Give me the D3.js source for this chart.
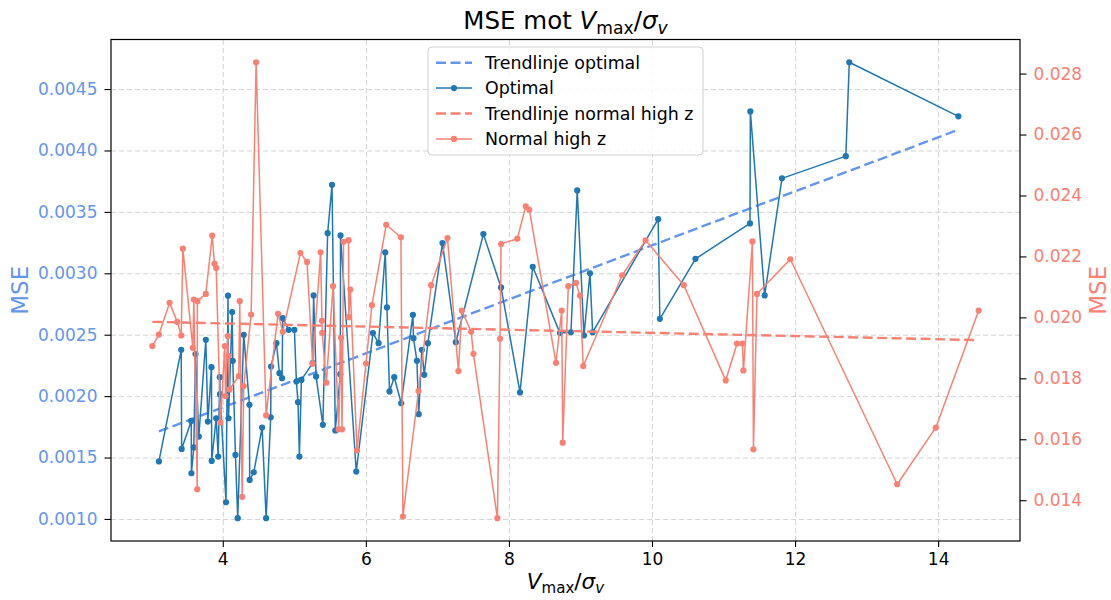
<!DOCTYPE html>
<html>
<head>
<meta charset="utf-8">
<script src="https://cdn.jsdelivr.net/npm/d3@7"></script>
<style>
  body { margin: 0; background: #fff; }
  svg { font-family: "DejaVu Sans", sans-serif; }
</style>
</head>
<body>
<div class="chart"></div>
<script>
// "Optimal" series (left axis)
const optX = [3.107, 3.419, 3.425, 3.559, 3.562, 3.595, 3.619, 3.665, 3.763, 3.791,
  3.842, 3.845, 3.908, 3.936, 3.958, 3.962, 4.045, 4.073, 4.080, 4.131,
  4.140, 4.177, 4.209, 4.293, 4.373, 4.376, 4.433, 4.550, 4.606, 4.670,
  4.675, 4.750, 4.792, 4.829, 4.838, 4.921, 5.001, 5.029, 5.052, 5.071,
  5.099, 5.256, 5.270, 5.304, 5.399, 5.466, 5.527, 5.573, 5.643, 5.646,
  5.866, 6.099, 6.178, 6.271, 6.295, 6.331, 6.397, 6.494, 6.658, 6.666,
  6.714, 6.739, 6.783, 6.816, 6.867, 7.071, 7.258, 7.643, 7.890, 8.155,
  8.333, 8.714, 8.867, 8.955, 9.049, 9.133, 9.170, 10.086, 10.110, 10.608,
  11.370, 11.375, 11.575, 11.817, 12.710, 12.758, 14.283];
const optY = [0.001468, 0.002377, 0.001570, 0.001798, 0.001372, 0.001582, 0.002342, 0.001671, 0.002458, 0.001793,
  0.002236, 0.001472, 0.001820, 0.001508, 0.002154, 0.002016, 0.001136, 0.002818, 0.001820, 0.002684,
  0.002287, 0.001521, 0.001006, 0.002499, 0.001929, 0.001318, 0.001380, 0.001744, 0.001006, 0.001828,
  0.002241, 0.002431, 0.002187, 0.002146, 0.002635, 0.002540, 0.002540, 0.002119, 0.001951, 0.001508,
  0.002132, 0.002268, 0.002820, 0.002160, 0.001766, 0.003327, 0.003720, 0.001720, 0.002179, 0.003308,
  0.001386, 0.002513, 0.002431, 0.003170, 0.002722, 0.002038, 0.002154, 0.001942, 0.002662, 0.002472,
  0.002287, 0.001853, 0.002377, 0.002173, 0.002431, 0.003246, 0.002439, 0.003319, 0.002885, 0.002030,
  0.003053, 0.002513, 0.002520, 0.003675, 0.002494, 0.003000, 0.002520, 0.003441, 0.002629, 0.003118,
  0.003406, 0.004318, 0.002820, 0.003773, 0.003954, 0.004718, 0.004278];

// "Normal high z" series (right axis)
const normX = [3.015, 3.107, 3.256, 3.363, 3.419, 3.442, 3.581, 3.595, 3.643, 3.645,
  3.763, 3.852, 3.884, 3.908, 3.968, 4.028, 4.038, 4.070, 4.080, 4.094,
  4.223, 4.237, 4.271, 4.293, 4.396, 4.466, 4.606, 4.773, 4.838, 5.085,
  5.178, 5.256, 5.368, 5.386, 5.390, 5.448, 5.541, 5.620, 5.653, 5.667,
  5.689, 5.758, 5.761, 5.783, 5.876, 6.002, 6.085, 6.285, 6.490, 6.518,
  6.736, 6.913, 7.141, 7.294, 7.342, 7.472, 7.504, 7.839, 7.876, 7.890,
  8.118, 8.235, 8.285, 8.658, 8.738, 8.752, 8.830, 8.937, 8.993, 9.039,
  9.584, 9.910, 10.445, 11.031, 11.189, 11.264, 11.278, 11.404, 11.418, 11.468,
  11.934, 13.428, 13.967, 14.567];
const normY = [0.019057, 0.019437, 0.020476, 0.019853, 0.019405, 0.022254, 0.019002, 0.020584, 0.014360, 0.020531,
  0.020770, 0.022680, 0.021763, 0.021622, 0.016545, 0.019057, 0.017420, 0.019385, 0.018730, 0.017636,
  0.018075, 0.020531, 0.014111, 0.017747, 0.020092, 0.028370, 0.016784, 0.020115, 0.019526, 0.022113,
  0.021819, 0.018478, 0.022136, 0.019886, 0.019493, 0.017855, 0.021023, 0.016326, 0.019329, 0.016326,
  0.022481, 0.022534, 0.020007, 0.020911, 0.015638, 0.018487, 0.020400, 0.023040, 0.022628, 0.013466,
  0.017583, 0.021055, 0.022605, 0.018238, 0.020223, 0.019526, 0.018805, 0.013410, 0.019296, 0.022408,
  0.022582, 0.023643, 0.023532, 0.018510, 0.020223, 0.015890, 0.021023, 0.021131, 0.020715, 0.018402,
  0.021383, 0.022529, 0.021055, 0.017931, 0.019143, 0.019143, 0.018258, 0.022491, 0.015670, 0.020770,
  0.021907, 0.014524, 0.016381, 0.020223];

// trend lines (end points)
const trendOptX = [3.107, 14.283];
const trendOptY = [0.001712, 0.004169];
const trendNormX = [3.015, 14.567];
const trendNormY = [0.019853, 0.019254];

// ticks
const xTicks = [4, 6, 8, 10, 12, 14];
const leftTicks = [0.0010, 0.0015, 0.0020, 0.0025, 0.0030, 0.0035, 0.0040, 0.0045];
const rightTicks = [0.014, 0.016, 0.018, 0.020, 0.022, 0.024, 0.026, 0.028];

const legendLabels = ["Trendlinje optimal", "Optimal", "Trendlinje normal high z", "Normal high z"];

const blue = "#1f77b4", lightBlue = "#6495ED", salmon = "#FA8072";

const W = 1111, H = 600;
const margin = {top: 39.5, right: 91, bottom: 59, left: 111};
const width = W - margin.left - margin.right;
const height = H - margin.top - margin.bottom;

const svg = d3.select(".chart").append("svg")
  .attr("width", W)
  .attr("height", H);

const g = svg.append("g")
  .attr("transform", `translate(${margin.left}, ${margin.top})`);

// matplotlib-style 5% margins
function padded(vals) {
  const [lo, hi] = d3.extent(vals);
  const p = (hi - lo) * 0.05;
  return [lo - p, hi + p];
}

const x = d3.scaleLinear().domain(padded(optX.concat(normX))).range([0, width]);
const yL = d3.scaleLinear().domain(padded(optY.concat(trendOptY))).range([height, 0]);
const yR = d3.scaleLinear().domain(padded(normY.concat(trendNormY))).range([height, 0]);

// grid
const gridX = g.append("g")
  .attr("transform", `translate(0, ${height})`)
  .call(d3.axisBottom(x).tickValues(xTicks).tickSize(-height).tickFormat(""));
const gridY = g.append("g")
  .call(d3.axisLeft(yL).tickValues(leftTicks).tickSize(-width).tickFormat(""));
[gridX, gridY].forEach(s => {
  s.select(".domain").remove();
  s.selectAll("line")
    .attr("stroke", "#c8c8c8")
    .attr("stroke-opacity", 0.8)
    .attr("stroke-width", 1)
    .attr("stroke-dasharray", "5,3");
});

// draw one series: trend + line with markers
function drawSeries(xs, ys, tx, ty, yScale, lineColor, trendColor) {
  const trend = d3.zip(tx, ty);
  g.append("path")
    .datum(trend)
    .attr("fill", "none")
    .attr("stroke", trendColor)
    .attr("stroke-width", 2.4)
    .attr("stroke-dasharray", "10,4.5")
    .attr("d", d3.line().x(d => x(d[0])).y(d => yScale(d[1])));

  const pts = d3.zip(xs, ys);
  g.append("path")
    .datum(pts)
    .attr("fill", "none")
    .attr("stroke", lineColor)
    .attr("stroke-width", 1.5)
    .attr("stroke-linejoin", "round")
    .attr("d", d3.line().x(d => x(d[0])).y(d => yScale(d[1])));

  g.append("g").selectAll("circle")
    .data(pts)
    .join("circle")
      .attr("cx", d => x(d[0]))
      .attr("cy", d => yScale(d[1]))
      .attr("r", 3.1)
      .attr("fill", lineColor);
}

drawSeries(optX, optY, trendOptX, trendOptY, yL, blue, lightBlue);
drawSeries(normX, normY, trendNormX, trendNormY, yR, salmon, salmon);

// axes
const xAxis = g.append("g")
  .attr("transform", `translate(0, ${height})`)
  .call(d3.axisBottom(x).tickValues(xTicks).tickSize(6).tickPadding(6));
const lAxis = g.append("g")
  .call(d3.axisLeft(yL).tickValues(leftTicks).tickFormat(d3.format(".4f")).tickSize(6.5).tickPadding(7));
const rAxis = g.append("g")
  .attr("transform", `translate(${width}, 0)`)
  .call(d3.axisRight(yR).tickValues(rightTicks).tickFormat(d3.format(".3f")).tickSize(6.5).tickPadding(7));

[[xAxis, "#000"], [lAxis, lightBlue], [rAxis, salmon]].forEach(([s, c]) => {
  s.select(".domain").remove();
  s.selectAll("line").attr("stroke", "#000").attr("stroke-width", 1.1);
  s.selectAll("text")
    .attr("fill", c)
    .style("font-family", "'DejaVu Sans', sans-serif")
    .style("font-size", "17px");
});

// frame
g.append("rect")
  .attr("width", width)
  .attr("height", height)
  .attr("fill", "none")
  .attr("stroke", "#000")
  .attr("stroke-width", 1.2);

// V_max / sigma_v in mathtext style
function mathText(t, fs) {
  t.append("tspan").attr("font-style", "italic").text("V");
  t.append("tspan").attr("font-size", fs * 0.7).attr("dy", fs * 0.2).text("max");
  t.append("tspan").attr("dy", -fs * 0.2).text("/");
  t.append("tspan").attr("font-style", "italic").text("σ");
  t.append("tspan").attr("font-style", "italic").attr("font-size", fs * 0.7).attr("dy", fs * 0.2).text("v");
}

// title
const titleSize = 24.5;
const title = svg.append("text")
  .attr("x", margin.left + width / 2)
  .attr("y", 29)
  .attr("text-anchor", "middle")
  .attr("font-size", titleSize)
  .attr("fill", "#000");
title.append("tspan").text("MSE mot ");
mathText(title, titleSize);

// x label
const xlSize = 21.5;
const xl = svg.append("text")
  .attr("x", margin.left + width / 2)
  .attr("y", 589)
  .attr("text-anchor", "middle")
  .attr("font-size", xlSize)
  .attr("fill", "#000");
mathText(xl, xlSize);

// y labels
const labelSize = 23;
svg.append("text")
  .attr("transform", `translate(28, ${margin.top + height / 2}) rotate(-90)`)
  .attr("text-anchor", "middle")
  .attr("font-size", labelSize)
  .attr("fill", lightBlue)
  .text("MSE");
svg.append("text")
  .attr("transform", `translate(1106, ${margin.top + height / 2}) rotate(-90)`)
  .attr("text-anchor", "middle")
  .attr("font-size", labelSize)
  .attr("fill", salmon)
  .text("MSE");

// legend
const lg = svg.append("g").attr("transform", "translate(428, 47)");
lg.append("rect")
  .attr("width", 275)
  .attr("height", 108)
  .attr("rx", 4)
  .attr("fill", "#fff")
  .attr("fill-opacity", 0.8)
  .attr("stroke", "#d0d0d0")
  .attr("stroke-width", 1);

const legendStyle = [
  {color: lightBlue, dashed: true},
  {color: blue, dashed: false},
  {color: salmon, dashed: true},
  {color: salmon, dashed: false}
];

const rows = lg.selectAll("g.row")
  .data(legendLabels)
  .join("g")
    .attr("class", "row")
    .attr("transform", (d, i) => `translate(0, ${15.7 + i * 25.4})`);

rows.append("line")
  .attr("x1", 8)
  .attr("x2", 44)
  .attr("stroke", (d, i) => legendStyle[i].color)
  .attr("stroke-width", (d, i) => legendStyle[i].dashed ? 2.4 : 1.5)
  .attr("stroke-dasharray", (d, i) => legendStyle[i].dashed ? "10,4.5" : null);

rows.filter((d, i) => !legendStyle[i].dashed)
  .append("circle")
    .attr("cx", 26)
    .attr("r", 3.1)
    .attr("fill", d => legendStyle[legendLabels.indexOf(d)].color);

rows.append("text")
  .attr("x", 57)
  .attr("dy", "0.35em")
  .attr("font-size", 17.4)
  .attr("fill", "#000")
  .text(d => d);
</script>
</body>
</html>
